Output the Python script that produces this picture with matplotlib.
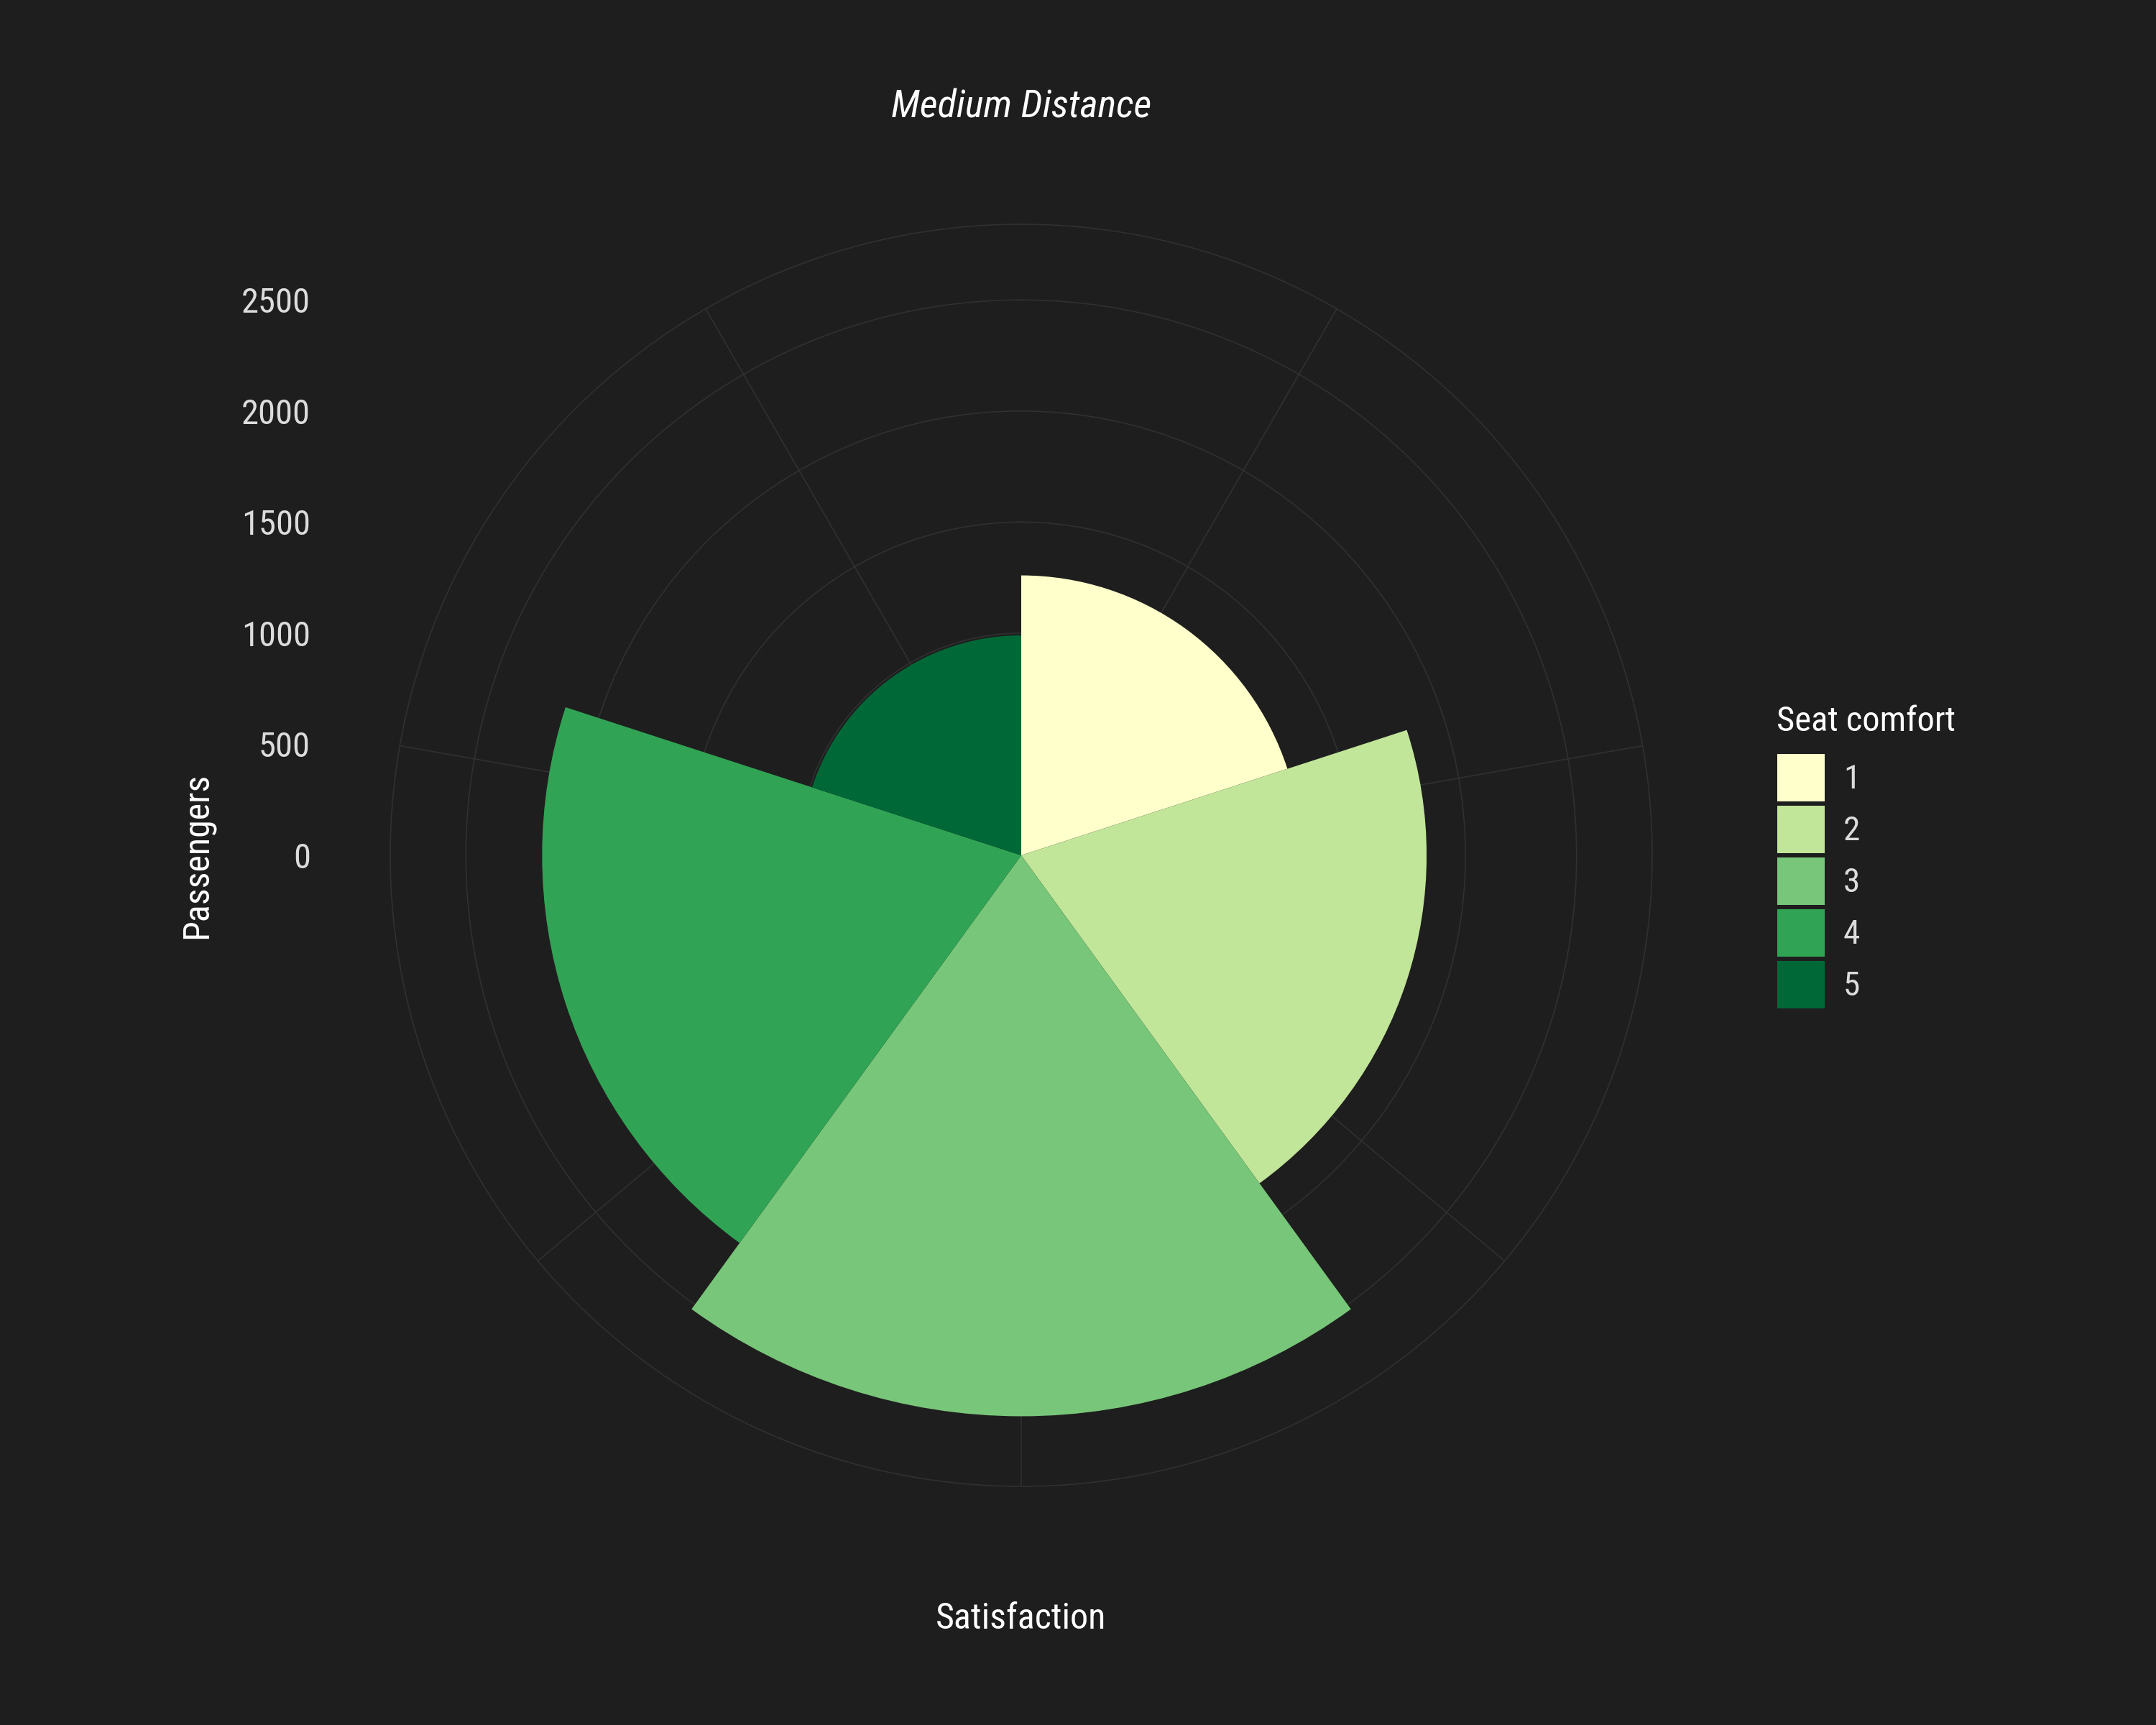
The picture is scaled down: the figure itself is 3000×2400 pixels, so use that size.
import numpy as np
import matplotlib
matplotlib.use("Agg")
import matplotlib.pyplot as plt
from matplotlib import font_manager
from matplotlib.patches import Patch

# ---------------- data ----------------
categories = ["1", "2", "3", "4", "5"]
passengers = [1260, 1825, 2525, 2157, 990]
colors = ["#FFFFCC", "#C2E699", "#78C679", "#31A354", "#006837"]
r_breaks = [0, 500, 1000, 1500, 2000, 2500]
r_labels = ["0", "500", "1000", "1500", "2000", "2500"]
theta_grid_deg = [30, 80, 130, 180, 230, 280, 330]
title = "Medium Distance"
x_label = "Satisfaction"
y_label = "Passengers"
legend_title = "Seat comfort"

# ---------------- style ----------------
BG = "#1E1E1E"
GRID = "#303030"
TXT = "#DCDCDC"
WHITE = "#FFFFFF"

names = {f.name for f in font_manager.fontManager.ttflist}
FONT = "DejaVu Sans"
for cand in ["Roboto Condensed", "Roboto", "Open Sans"]:
    if cand in names:
        FONT = cand
        break
plt.rcParams["font.family"] = FONT

W, H, DPI = 3000, 2400, 200
fig = plt.figure(figsize=(W / DPI, H / DPI), dpi=DPI, facecolor=BG)

cx, cy, R = 1421, 1190, 878  # panel centre and outer radius in pixels
rect = [(cx - R) / W, (H - cy - R) / H, 2 * R / W, 2 * R / H]

ax = fig.add_axes(rect, projection="polar")
ax.set_facecolor(BG)
ax.set_theta_zero_location("N")
ax.set_theta_direction(-1)

n = len(categories)
width = 2 * np.pi / n
theta_left = np.arange(n) * width
rmax = max(passengers) * 0.45 / 0.4
ax.set_ylim(0, rmax)

ax.set_axisbelow(True)
ax.bar(theta_left, passengers, width=width, align="edge", color=colors,
       edgecolor="none", zorder=2)

ax.set_xticks(np.deg2rad(theta_grid_deg))
ax.set_xticklabels([])
ax.set_yticks(r_breaks[1:])
ax.set_yticklabels([])
ax.grid(True, color=GRID, linewidth=0.6)
ax.spines["polar"].set_color(GRID)
ax.spines["polar"].set_linewidth(0.6)
ax.tick_params(length=0)

# radial axis labels on the left (ggplot style)
axl = fig.add_axes(rect)
axl.set_xlim(-rmax, rmax)
axl.set_ylim(-rmax, rmax)
axl.patch.set_visible(False)
for s in axl.spines.values():
    s.set_visible(False)
axl.set_xticks([])
axl.set_yticks(r_breaks)
axl.set_yticklabels(r_labels, color=TXT, fontsize=17.5)
pad_pt = (cx - R - 432) * 72 / DPI
axl.tick_params(axis="y", length=0, pad=pad_pt)

# titles
fig.text(cx / W, 1 - 149 / H, title, ha="center", va="center",
         fontsize=19.6, style="italic", color=WHITE)
fig.text(cx / W, 1 - 2252 / H, x_label, ha="center", va="center",
         fontsize=18, color=WHITE)
fig.text(274 / W, 1 - 1190 / H, y_label, ha="center", va="center",
         rotation=90, fontsize=18, color=WHITE)

# legend
fig.text(2472 / W, 1 - 1017 / H, legend_title, ha="left", va="baseline",
         fontsize=17.5, color=WHITE)
handles = [Patch(facecolor=c, edgecolor="none", label=l)
           for c, l in zip(colors, categories)]
fs = 17
em = fs * DPI / 72
leg = fig.legend(handles=handles, loc="upper left",
                 bbox_to_anchor=(2473 / W, 1 - 1049 / H), frameon=False,
                 fontsize=fs, handlelength=66 / em,
                 handleheight=(66 / em - 0.245) / 0.65,
                 labelspacing=6 / em, handletextpad=0.55,
                 borderpad=0, borderaxespad=0)
for t in leg.get_texts():
    t.set_color(TXT)

fig.savefig("out.png", dpi=DPI, facecolor=BG)
